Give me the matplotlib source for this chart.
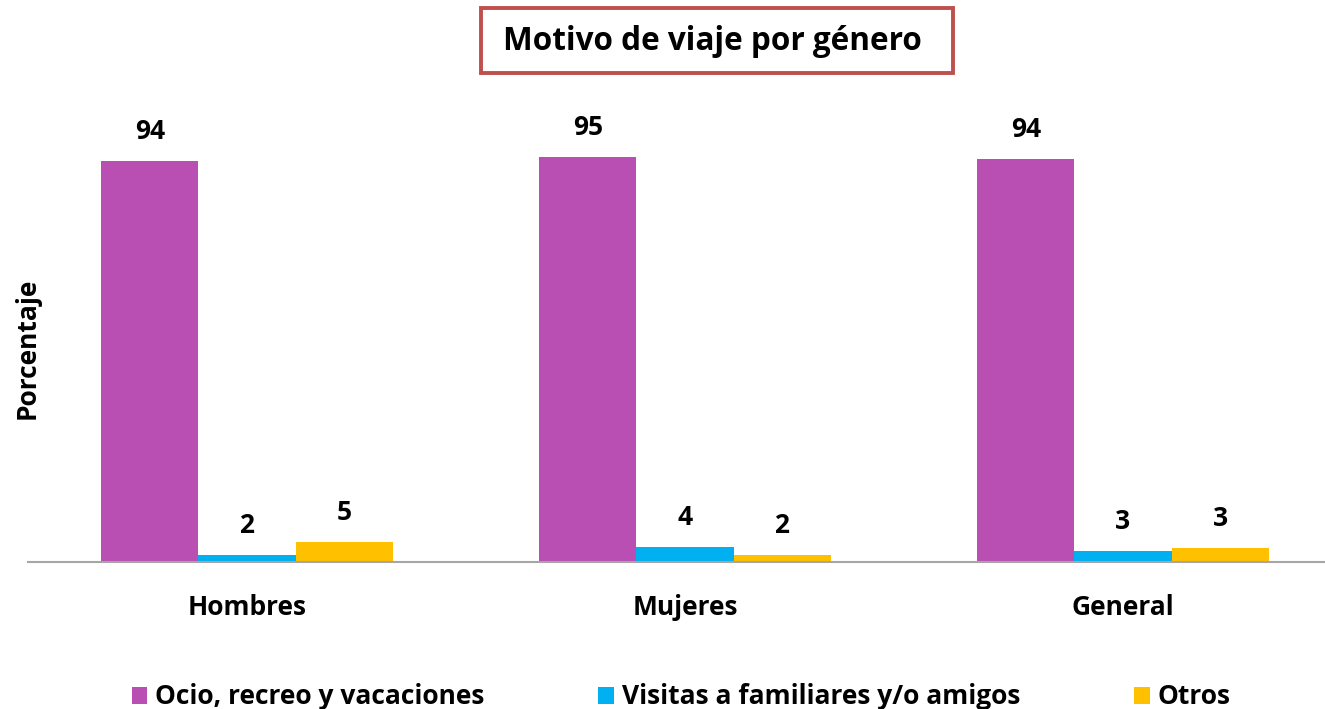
import matplotlib
matplotlib.use("Agg")
import matplotlib.pyplot as plt
import numpy as np
from matplotlib.patches import Rectangle

# values (bars rounded in labels)
groups = ["Hombres", "Mujeres", "General"]
series_names = ["Ocio, recreo y vacaciones", "Visitas a familiares y/o amigos", "Otros"]
ocio = [93.9, 94.9, 94.4]
visitas = [1.6, 3.5, 2.5]
otros = [4.6, 1.6, 3.2]
colors = ["#B94FB3", "#00B0F0", "#FFC000"]

plt.rcParams["font.family"] = ["Open Sans", "DejaVu Sans"]
plt.rcParams["font.weight"] = "bold"

W, H = 1325, 709
fig = plt.figure(figsize=(W / 100, H / 100), dpi=100)
# axes placed in pixel terms: baseline at y=562, 438 px per category
ax = fig.add_axes([28 / W, (H - 562) / H, 1314 / W, 426.6 / H])

x = np.arange(len(groups))
width = 0.2215
for i, (vals, name, c) in enumerate(zip([ocio, visitas, otros], series_names, colors)):
    bars = ax.bar(x + (i - 1) * width, vals, width, color=c, label=name)
    for b, v in zip(bars, vals):
        ax.text(b.get_x() + b.get_width() / 2, v + 7.0, str(int(v + 0.5)),
                ha="center", va="center", fontsize=19, fontweight="bold")

ax.set_xlim(-0.5, 2.5)
ax.set_ylim(0, 100)
ax.set_xticks(x)
ax.set_xticklabels(groups, fontsize=19, fontweight="bold")
ax.tick_params(axis="x", length=0, pad=23)
ax.set_yticks([])
for s in ["top", "right", "left"]:
    ax.spines[s].set_visible(False)
ax.spines["bottom"].set_color("#A6A6A6")
ax.spines["bottom"].set_linewidth(1.5)

fig.text(27 / W, 1 - 348 / H, "Porcentaje", rotation=90, ha="center", va="center",
         fontsize=19, fontweight="bold")

# title in a red framed box
fig.patches.append(Rectangle((481 / W, 1 - 73 / H), 472 / W, 65 / H, transform=fig.transFigure,
                             facecolor="white", edgecolor="#C0504D", linewidth=2.8))
fig.text(712 / W, 1 - 42 / H, "Motivo de viaje por género", ha="center", va="center",
         fontsize=22.7, fontweight="bold")

fig.legend(loc="center", bbox_to_anchor=(681 / W, 1 - 697 / H), ncol=3, frameon=False,
           prop={"size": 19, "weight": "bold"}, handlelength=0.6, handleheight=0.6,
           handletextpad=0.3, columnspacing=4.3, borderaxespad=0)

fig.savefig("out.png", dpi=100)
